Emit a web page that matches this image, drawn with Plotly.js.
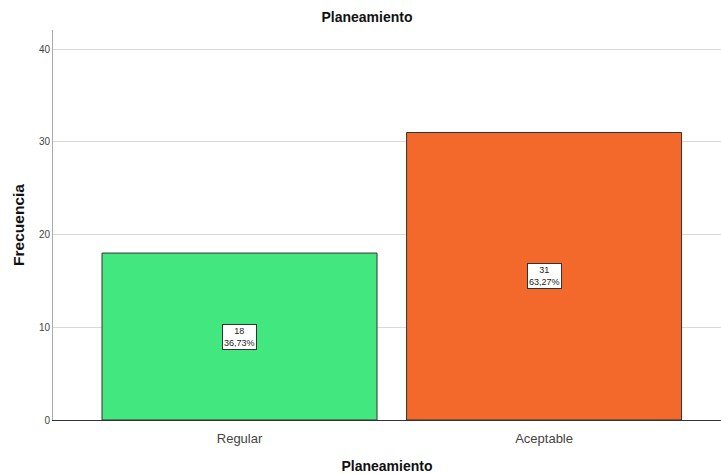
<!DOCTYPE html>
<html>
<head>
<meta charset="utf-8">
<script src="https://cdn.plot.ly/plotly-3.0.1.min.js"></script>
<style>html,body{margin:0;padding:0;background:#fff;}#chart{width:721px;height:474px;}</style>
</head>
<body>
<div id="chart"></div>
<script>
const categories = ["Regular", "Aceptable"];
const counts = [18, 31];
const percents = ["36,73%", "63,27%"];
const barColors = ["#42E77F", "#F2692B"];

const font = "Arial, 'Liberation Sans', sans-serif";

const trace = {
  type: "bar",
  x: categories,
  y: counts,
  width: 0.903,
  marker: {color: barColors, line: {color: "#333333", width: 1}},
  hoverinfo: "none"
};

const annotations = categories.map((c, i) => ({
  x: c, y: counts[i] / 2, xref: "x", yref: "y",
  text: counts[i] + "<br>" + percents[i],
  showarrow: false,
  font: {family: font, size: 9, color: "#222"},
  bgcolor: "#ffffff",
  bordercolor: "#333333",
  borderwidth: 1,
  borderpad: 1,
  align: "center"
}));

const layout = {
  width: 721, height: 474,
  margin: {l: 53, r: 0, t: 30, b: 54},
  paper_bgcolor: "#fff", plot_bgcolor: "#fff",
  showlegend: false,
  title: {text: "<b>Planeamiento</b>", font: {family: font, size: 14, color: "#111"},
          x: 0.509, xanchor: "center", y: 1 - 17/474, yanchor: "middle", yref: "container"},
  xaxis: {
    type: "category",
    range: [-0.6125, 1.581],
    showgrid: false,
    showline: true, linecolor: "#333", linewidth: 1,
    ticks: "outside", ticklen: 6, tickcolor: "rgba(0,0,0,0)",
    tickfont: {family: font, size: 13, color: "#444"},
    title: {text: "<b>Planeamiento</b>", font: {family: font, size: 14, color: "#111"}, standoff: 16},
    zeroline: false
  },
  yaxis: {
    range: [0, 42.05],
    tickvals: [0, 10, 20, 30, 40],
    showgrid: true, gridcolor: "#d9d9d9", gridwidth: 1,
    showline: true, linecolor: "#aaaaaa", linewidth: 1,
    ticks: "",
    tickfont: {family: font, size: 10, color: "#444"},
    title: {text: "<b>Frecuencia</b>", font: {family: font, size: 15.5, color: "#111"}, standoff: 10},
    zeroline: false
  },
  annotations: annotations
};

Plotly.newPlot("chart", [trace], layout, {displayModeBar: false, staticPlot: true});
</script>
</body>
</html>
